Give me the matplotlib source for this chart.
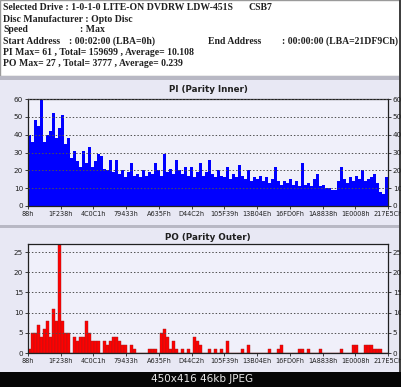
import matplotlib
matplotlib.use("Agg")
import matplotlib.pyplot as plt
from matplotlib.patches import Rectangle
import numpy as np

W, H = 402, 387

x_labels = ["88h", "1F238h", "4C0C1h", "79433h", "A635Fh", "D44C2h", "105F39h",
            "13B04Eh", "16FD0Fh", "1A8838h", "1E0008h", "217E5Ch"]

pi_values = [
    40, 36, 48, 45, 60, 36, 40, 42, 52, 38,
    44, 51, 35, 38, 27, 31, 25, 22, 31, 24,
    33, 22, 25, 29, 28, 21, 20, 26, 19, 26,
    18, 20, 16, 19, 24, 17, 18, 16, 20, 17,
    19, 18, 24, 20, 17, 29, 19, 21, 18, 26,
    20, 18, 22, 17, 22, 16, 19, 24, 17, 19,
    26, 18, 16, 20, 17, 16, 22, 15, 18, 16,
    23, 17, 15, 20, 14, 16, 15, 17, 14, 16,
    13, 15, 22, 14, 12, 14, 13, 15, 12, 14,
    11, 24, 12, 13, 11, 15, 18, 11, 12, 10,
    10, 9, 9, 14, 22, 15, 13, 16, 14, 17,
    15, 20, 14, 15, 16, 18, 13, 8, 7, 16,
]

po_values = [
    1, 5, 5, 7, 4, 6, 8, 4, 11, 8,
    27, 8, 5, 5, 0, 4, 3, 4, 4, 8,
    5, 3, 3, 3, 0, 3, 2, 3, 4, 4,
    3, 2, 2, 0, 2, 1, 0, 0, 0, 0,
    1, 1, 1, 0, 5, 6, 4, 1, 3, 1,
    0, 1, 0, 1, 0, 4, 3, 2, 0, 0,
    1, 0, 1, 0, 1, 0, 3, 0, 0, 0,
    0, 1, 0, 2, 0, 0, 0, 0, 0, 0,
    1, 0, 0, 1, 2, 0, 0, 0, 0, 0,
    1, 1, 0, 1, 0, 0, 0, 1, 0, 0,
    0, 0, 0, 0, 1, 0, 0, 0, 2, 2,
    0, 0, 2, 2, 2, 1, 1, 1, 0, 0,
]

header_lines = [
    ("Selected Drive : 1-0-1-0 LITE-ON DVDRW LDW-451S", 3, 7.5),
    ("CSB7", 249, 7.5),
    ("Disc Manufacturer : Opto Disc", 3, 19),
    ("Speed", 3, 30),
    (": Max", 80, 30),
    ("Start Address", 3, 41.5),
    (": 00:02:00 (LBA=0h)", 69, 41.5),
    ("End Address", 208, 41.5),
    (": 00:00:00 (LBA=21DF9Ch)", 282, 41.5),
    ("PI Max= 61 , Total= 159699 , Average= 10.108", 3, 52.5),
    ("PO Max= 27 , Total= 3777 , Average= 0.239", 3, 63),
]


def frac(x, y, w, h):
    return [x / W, 1 - (y + h) / H, w / W, h / H]


fig = plt.figure(figsize=(W / 100, H / 100), dpi=100)
fig.patch.set_facecolor("#e8e8f4")


def rect(x, y, w, h, fc, ec="none", lw=0):
    r = Rectangle((x / W, 1 - (y + h) / H), w / W, h / H, transform=fig.transFigure,
                  facecolor=fc, edgecolor=ec, linewidth=lw, zorder=-5)
    fig.patches.append(r)


rect(0, 0, W, 76, "white", "#9a9a9a", 1)
rect(0, 76, W, 4, "#b8b8c4")
rect(0, 80, W, 145, "#e8e8f4")
rect(0, 225, W, 3, "#b8b8c4")
rect(0, 228, W, 144, "#e8e8f4")
rect(0, 372, W, 15, "#050505")
rect(399.5, 0, 2.5, 372, "#404040")

for txt, x, y in header_lines:
    fig.text(x / W, 1 - y / H, txt, fontsize=7.0, family="Liberation Serif",
             fontweight="bold", color="#202020", ha="left", va="center")

fig.text(202 / W, 1 - 379 / H, "450x416 46kb JPEG", fontsize=7.5, color="#e8e8e8",
         ha="center", va="center", family="DejaVu Sans")

n = len(pi_values)
label_pos = np.linspace(0, n, len(x_labels))


def style(ax, ymax, yticks):
    ax.set_zorder(2)
    ax.set_facecolor("#f0f0fa")
    ax.set_xlim(0, n)
    ax.set_ylim(0, ymax)
    ax.set_yticks(yticks)
    ax.set_xticks(label_pos)
    ax.set_xticklabels(x_labels)
    ax.tick_params(axis="both", labelsize=5.2, length=2, width=0.6, pad=1.5,
                   colors="#202020")
    ax.tick_params(axis="x", labelsize=4.7)
    ax.tick_params(axis="y", right=True, labelright=True)
    for s in ax.spines.values():
        s.set_linewidth(0.9)
        s.set_color("#202020")
    ax.grid(axis="y", linestyle=(0, (1.5, 2)), color="#505050", linewidth=0.7)
    ax.set_axisbelow(False)


ax1 = fig.add_axes(frac(28, 99, 360, 107))
ax1.bar(np.arange(n) + 0.5, pi_values, width=1.0, color="#0000ff", linewidth=0, zorder=1)
style(ax1, 60, [0, 10, 20, 30, 40, 50, 60])
fig.text(208 / W, 1 - 90 / H, "PI (Parity Inner)", fontsize=6.3, fontweight="bold",
         ha="center", va="center", color="#202020")

ax2 = fig.add_axes(frac(28, 244, 360, 109))
ax2.bar(np.arange(n) + 0.5, po_values, width=0.8, color="#ff0000",
        edgecolor="#a02020", linewidth=0.3, zorder=1)
style(ax2, 27, [0, 5, 10, 15, 20, 25])
fig.text(208 / W, 1 - 237 / H, "PO (Parity Outer)", fontsize=6.3, fontweight="bold",
         ha="center", va="center", color="#202020")

fig.savefig("out.png", dpi=100, facecolor=fig.get_facecolor())
